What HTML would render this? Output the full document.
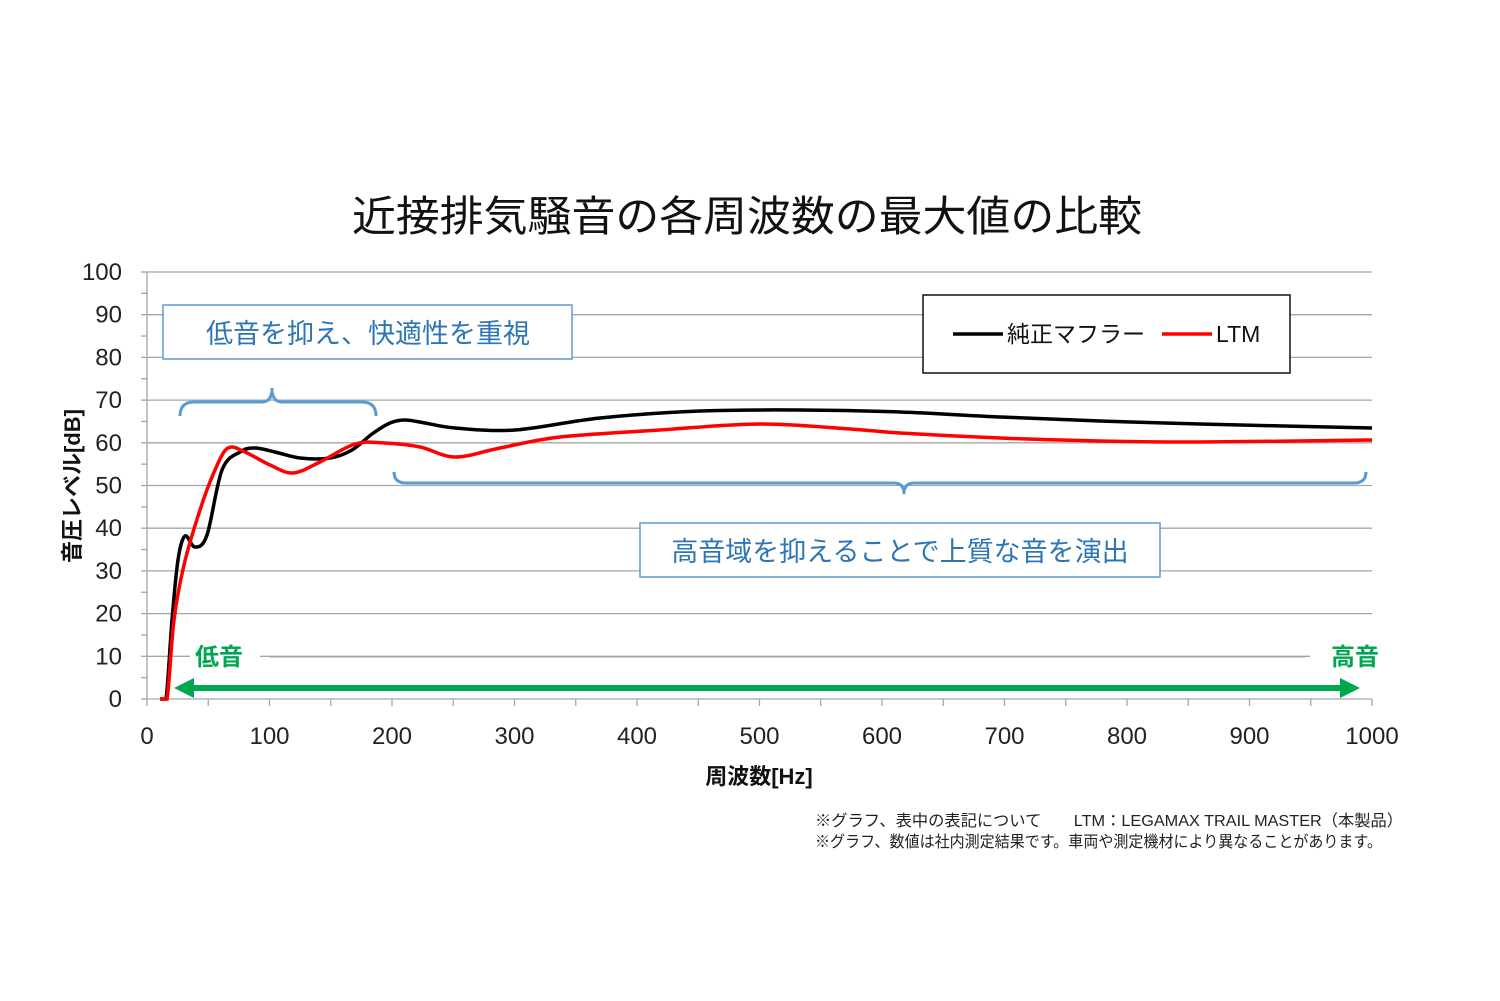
<!DOCTYPE html>
<html><head><meta charset="utf-8"><style>
body{margin:0;background:#fff}
svg{display:block;font-family:"Liberation Sans","Noto Sans CJK JP",sans-serif}
</style></head><body>
<svg id="s" width="1500" height="1001" viewBox="0 0 1500 1001">
<text x="352" y="231" font-size="42" textLength="790" lengthAdjust="spacingAndGlyphs" fill="#111">近接排気騒音の各周波数の最大値の比較</text>
<g id="grid" stroke="#a6a6a6" stroke-width="1.3"></g>
<g id="lab" font-size="24" fill="#222"></g>
<text x="80" y="486" font-size="22" font-weight="bold" text-anchor="middle" transform="rotate(-90 80 486)" fill="#111">音圧レベル[dB]</text>
<text x="759" y="784" font-size="22" font-weight="bold" text-anchor="middle" fill="#111">周波数[Hz]</text>
<rect x="163" y="305" width="409" height="54" fill="#fff" stroke="#5b9bd5" stroke-width="1.5"/>
<text x="368" y="343" font-size="27" text-anchor="middle" fill="#2e75b6">低音を抑え、快適性を重視</text>
<rect x="640" y="523" width="520" height="54" fill="#fff" stroke="#5b9bd5" stroke-width="1.5"/>
<text x="900" y="561" font-size="27" text-anchor="middle" fill="#2e75b6">高音域を抑えることで上質な音を演出</text>
<path d="M180,416 Q180,402 194,402 L262,402 Q272,402 272,388 Q272,402 282,402 L362,402 Q376,402 376,416" fill="none" stroke="#5b9bd5" stroke-width="3"/>
<path d="M394,472 Q394,483 406,483 L894,483 Q904,483 904,494 Q904,483 914,483 L1354,483 Q1366,483 1366,472" fill="none" stroke="#5b9bd5" stroke-width="3"/>
<rect x="923" y="295" width="367" height="78" fill="#fff" stroke="#111" stroke-width="1.5"/>
<line x1="953" y1="334" x2="1003" y2="334" stroke="#000" stroke-width="3.5"/>
<text x="1007" y="342" font-size="23" fill="#111">純正マフラー</text>
<line x1="1162" y1="334" x2="1212" y2="334" stroke="#f00" stroke-width="3.5"/>
<text x="1216" y="342" font-size="23" fill="#111">LTM</text>
<line x1="270" y1="657" x2="1305" y2="657" stroke="#a6a6a6" stroke-width="1.3"/>
<rect x="190" y="640" width="70" height="34" fill="#fff"/>
<rect x="1310" y="640" width="80" height="34" fill="#fff"/>
<text x="195" y="665" font-size="24" font-weight="bold" fill="#00a651">低音</text>
<text x="1331" y="665" font-size="24" font-weight="bold" fill="#00a651">高音</text>
<line x1="190" y1="688" x2="1345" y2="688" stroke="#00a651" stroke-width="6"/>
<polygon points="174,688 194,678 194,698" fill="#00a651"/>
<polygon points="1360,688 1340,678 1340,698" fill="#00a651"/>
<path id="blk" fill="none" stroke="#000" stroke-width="3.5"/>
<path id="red" fill="none" stroke="#f00" stroke-width="3.5"/>
<text x="815" y="826" font-size="16" textLength="588" lengthAdjust="spacingAndGlyphs" fill="#222">※グラフ、表中の表記について　　LTM：LEGAMAX TRAIL MASTER（本製品）</text>
<text x="815" y="847" font-size="16" textLength="567" lengthAdjust="spacingAndGlyphs" fill="#222">※グラフ、数値は社内測定結果です。車両や測定機材により異なることがあります。</text>
</svg>
<script>
var ns="http://www.w3.org/2000/svg",g=document.getElementById('grid'),lab=document.getElementById('lab');
function el(p,t,a){var e=document.createElementNS(ns,t);for(var k in a)e.setAttribute(k,a[k]);p.appendChild(e);return e;}
for(var i=0;i<=10;i++){var y=699-i*42.7;el(g,'line',{x1:147,x2:1372,y1:y,y2:y});var t=el(lab,'text',{x:122,y:y+8,'text-anchor':'end'});t.textContent=i*10;}
for(var i=0;i<=20;i++){var y=699-i*21.35;el(g,'line',{x1:141,x2:147,y1:y,y2:y});}
el(g,'line',{x1:147,x2:147,y1:272,y2:699});
for(var i=0;i<=20;i++){var x=147+i*61.25;el(g,'line',{x1:x,x2:x,y1:699,y2:706});}
for(var i=0;i<=10;i++){var x=147+i*122.5;var t=el(lab,'text',{x:x,y:744,'text-anchor':'middle'});t.textContent=i*100;}
function cr(p){var d='M'+p[0][0]+','+p[0][1];for(var i=0;i<p.length-1;i++){var a=p[Math.max(i-1,0)],b=p[i],c=p[i+1],e=p[Math.min(i+2,p.length-1)];var c1y=b[1]+(c[1]-a[1])/6,c2y=c[1]-(e[1]-b[1])/6;if(i<2){c1y=Math.min(c1y,699);c2y=Math.min(c2y,699);}if(i==0){c1y=699;}d+=' C'+(b[0]+(c[0]-a[0])/6)+','+c1y+' '+(c[0]-(e[0]-b[0])/6)+','+c2y+' '+c[0]+','+c[1];}return d;}
var B=[[160,699],[166,699],[172,620],[178,560],[185,536],[195,547],[207,535],[222,470],[240,452],[255,448],[275,452],[300,458],[330,458],[352,450],[372,434],[390,423],[405,420],[425,423],[455,428],[515,430],[600,418],[700,411],[800,410],[900,412],[1000,417],[1100,421],[1200,424],[1372,428]];
var R=[[160,699],[167,699],[174,620],[184,565],[200,510],[215,470],[228,448],[245,452],[270,465],[293,473],[320,462],[355,444],[385,443],[420,447],[455,457],[500,448],[560,437],[660,430],[760,424],[850,429],[900,433],[1000,438],[1100,441],[1200,442],[1372,440]];
document.getElementById('blk').setAttribute('d',cr(B).replace(/^M160,699 C[^C]*/,'M160,699 L166,699 '));
document.getElementById('red').setAttribute('d',cr(R).replace(/^M160,699 C[^C]*/,'M160,699 L167,699 '));
</script>
</body></html>
